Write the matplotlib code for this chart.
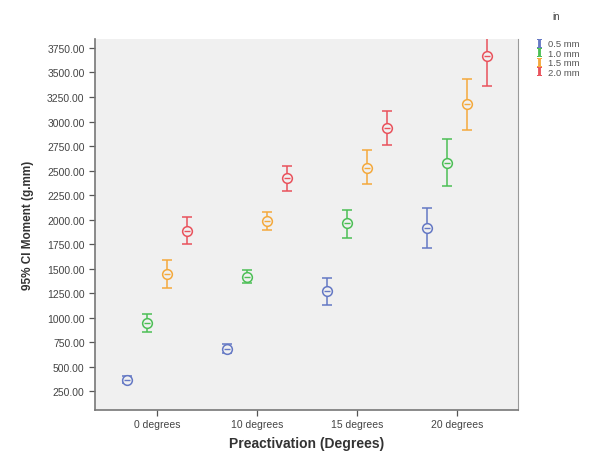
import numpy as np
import matplotlib
matplotlib.use("Agg")
import matplotlib.pyplot as plt
from matplotlib.lines import Line2D

plt.rcParams['font.family'] = ['Liberation Sans', 'DejaVu Sans']
plt.rcParams['mathtext.fontset'] = 'dejavuserif'

# data (mean, lower CI, upper CI)
groups = ["0 degrees", "10 degrees", "15 degrees", "20 degrees"]
wires = ["0.5 mm", "1.0 mm", "1.5 mm", "2.0 mm"]
colors = ["#6478c4", "#4cbf55", "#f4a93c", "#e9525c"]

mean_05 = [368, 678, 1269, 1913]
low_05 = [335, 635, 1133, 1707]
high_05 = [400, 729, 1407, 2115]

mean_10 = [945, 1417, 1960, 2578]
low_10 = [855, 1356, 1808, 2338]
high_10 = [1035, 1485, 2095, 2817]

mean_15 = [1447, 1984, 2530, 3175]
low_15 = [1302, 1889, 2362, 2909]
high_15 = [1586, 2075, 2706, 3438]

mean_20 = [1886, 2423, 2929, 3667]
low_20 = [1748, 2294, 2760, 3364]
high_20 = [2031, 2547, 3104, 3970]

means = [mean_05, mean_10, mean_15, mean_20]
lows = [low_05, low_10, low_15, low_20]
highs = [high_05, high_10, high_15, high_20]
offsets = [-0.30, -0.10, 0.10, 0.30]

fig = plt.figure(figsize=(5.92, 4.56), dpi=100)
ax = fig.add_axes([0.1605, 0.0993, 0.7145, 0.8127])
ax.set_facecolor("#f0f0f0")

x = np.arange(len(groups))
handles = []
for m, lo, hi, off, c, lab in zip(means, lows, highs, offsets, colors, wires):
    m = np.array(m)
    err = [m - np.array(lo), np.array(hi) - m]
    ax.errorbar(x + off, m, yerr=err, fmt='none', ecolor=c, elinewidth=1.1,
                capsize=3.5, capthick=1.1, zorder=2)
    ax.plot(x + off, m, 'o', mfc='#f0f0f0', mec=c, ms=7, mew=1.1, zorder=3)
    ax.plot(x + off, m, '_', color=c, ms=4, mew=1.0, zorder=4)
    handles.append(Line2D([], [], linestyle='none', marker=r'$\mathrm{I}$',
                          color=c, ms=6, mew=0.6, label=lab))

ax.set_xlim(-0.617, 3.61)
ax.set_ylim(61, 3840)
ax.set_xticks(x)
ax.set_xticklabels(groups)
yt = np.arange(250, 3751, 250)
ax.set_yticks(yt)
ax.set_yticklabels([f"{v:.2f}" for v in yt])
ax.tick_params(axis='both', labelsize=7.5, labelcolor='#444444', color='#555555',
               direction='out')
ax.tick_params(axis='y', length=4, width=0.9)
ax.tick_params(axis='x', length=4, width=0.9, pad=2.5)

for s in ['left', 'bottom']:
    ax.spines[s].set_color('#777777')
    ax.spines[s].set_linewidth(1.2)
ax.spines['right'].set_color('#999999')
ax.spines['top'].set_visible(False)

ax.set_xlabel("Preactivation (Degrees)", fontsize=10, fontweight='bold',
              color='#333333', labelpad=5)
ax.set_ylabel("95% CI Moment (g.mm)", fontsize=8.5, fontweight='bold',
              color='#333333', labelpad=9)

leg = ax.legend(handles=handles, loc='upper left', bbox_to_anchor=(0.906, 0.912),
                bbox_transform=fig.transFigure, frameon=False, fontsize=6.8,
                handlelength=0.6, handletextpad=0.6, labelspacing=0.05,
                borderaxespad=0, borderpad=0)
for t in leg.get_texts():
    t.set_color('#555555')
fig.text(0.94, 0.962, "in", fontsize=7, color='#444444', ha='center', va='center')

fig.savefig("out.png", dpi=100)
